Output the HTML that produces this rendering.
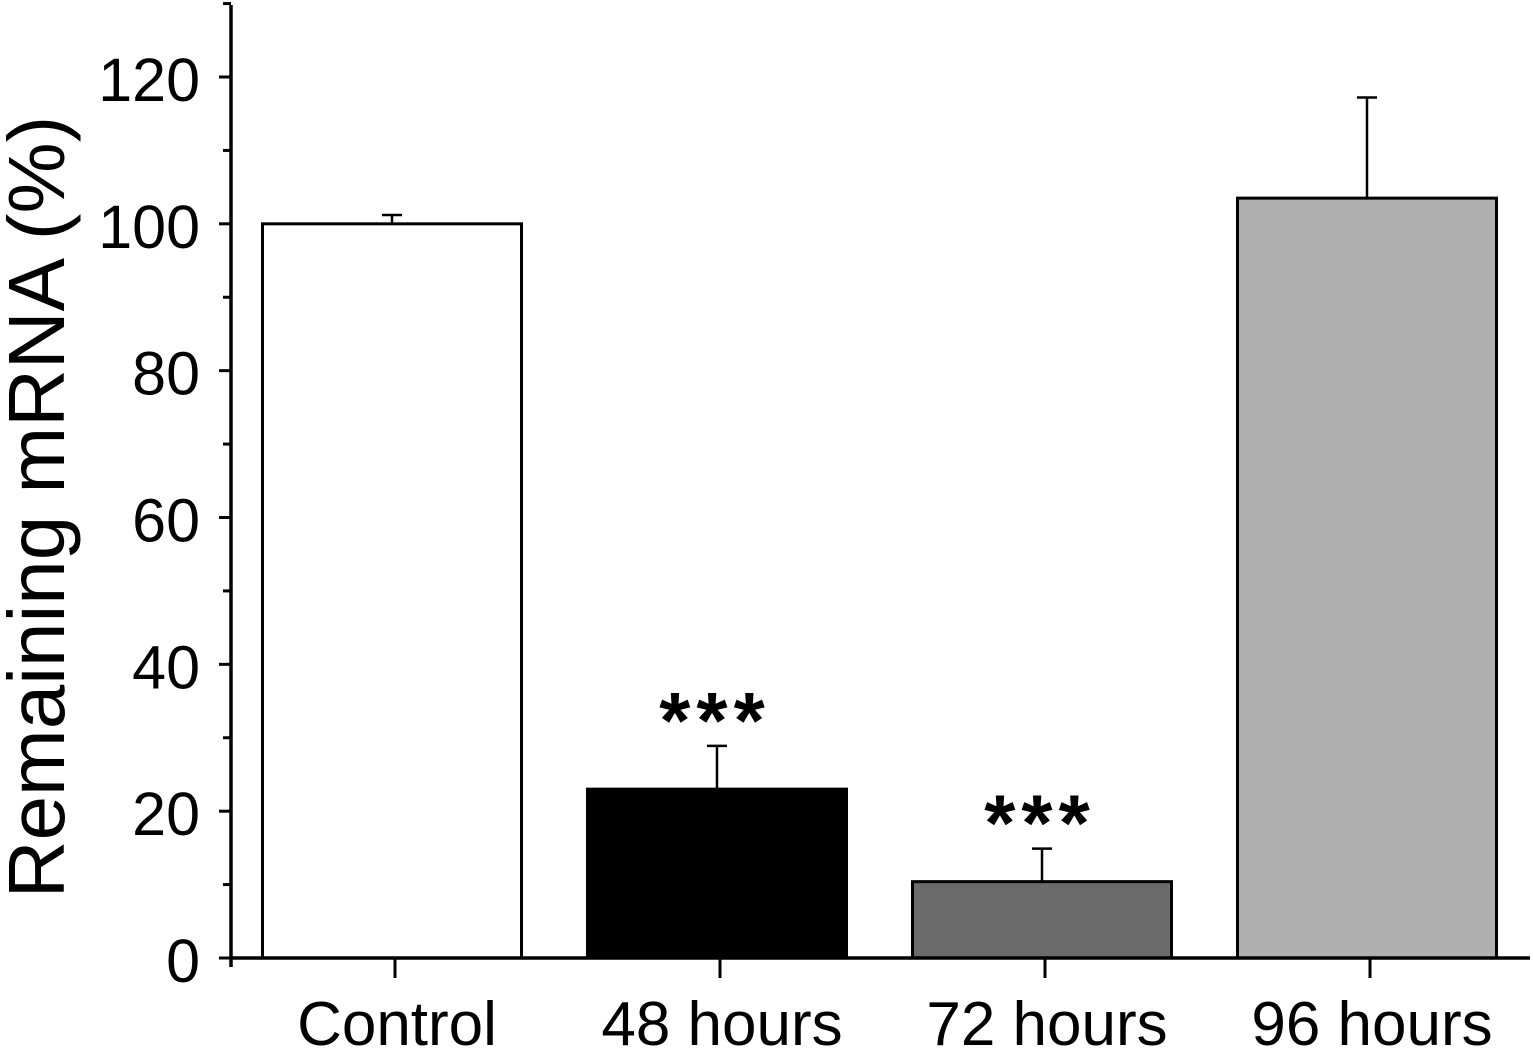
<!DOCTYPE html>
<html><head><meta charset="utf-8"><style>
html,body{margin:0;padding:0;background:#fff;}
svg{display:block;font-family:"Liberation Sans",Arial,sans-serif;}
</style></head><body>
<svg id="chart" width="1533" height="1056" viewBox="0 0 1533 1056"></svg>
<script>
const categories = ["Control","48 hours","72 hours","96 hours"];
const values = [100, 23, 10.4, 103.5];
const errors = [1.2, 5.9, 4.5, 13.7];
const fills = ["#ffffff","#000000","#6b6b6b","#b0b0b0"];
const signif = ["","***","***",""];
const yTicks = [0,20,40,60,80,100,120];

const NS="http://www.w3.org/2000/svg";
const svg=document.getElementById('chart');
const x0=231, y0=958, perUnit=(958-77)/120;
const yS=v=>y0-v*perUnit;
const xC=i=>392+i*325;
const barW=259;
function el(t,a,p){const e=document.createElementNS(NS,t);for(const k in a)e.setAttribute(k,a[k]);(p||svg).appendChild(e);return e;}

categories.forEach((c,i)=>{
  const cx=xC(i), top=yS(values[i]), et=yS(values[i]+errors[i]);
  const eb=el('line',{x1:cx,x2:cx,y1:top,y2:et,stroke:'#000','stroke-width':2.5});
  
  
  const cap=el('line',{x1:cx-10,x2:cx+10,y1:et,y2:et,stroke:'#000','stroke-width':2.5});
  
  
  const r=el('rect',{x:cx-barW/2,y:top,width:barW,height:y0-top,fill:fills[i],stroke:'#000','stroke-width':3});
  
  
  const t=el('text',{x:cx+5,y:1045,'font-size':62,'text-anchor':'middle'});
  t.textContent=c;
  
  
  const tk=el('line',{x1:cx+3,x2:cx+3,y1:y0,y2:y0+20,stroke:'#000','stroke-width':3});
  
  
  if(signif[i]){
    const s=el('text',{x:cx-2,y:et+2,'font-size':80,'font-weight':'bold','text-anchor':'middle','letter-spacing':6});
    s.textContent=signif[i];
    
    
  }
});
const ya=el('line',{x1:x0,x2:x0,y1:5,y2:967,stroke:'#000','stroke-width':3.5});


const xa=el('line',{x1:x0,x2:1530,y1:y0,y2:y0,stroke:'#000','stroke-width':3.5});


yTicks.forEach(v=>{
  const tk=el('line',{x1:x0-12,x2:x0,y1:yS(v),y2:yS(v),stroke:'#000','stroke-width':3});
  
  
  const mk=el('line',{x1:x0-8,x2:x0,y1:yS(v+10),y2:yS(v+10),stroke:'#000','stroke-width':3});
  
  
  const t=el('text',{x:200,y:yS(v)+24,'font-size':61,'text-anchor':'end'});
  t.textContent=v;
  
  
});
const yl=el('text',{x:0,y:0,'font-size':80,'text-anchor':'middle',transform:'translate(64,507) rotate(-90)'});
yl.textContent='Remaining mRNA (%)';


</script>
</body></html>
